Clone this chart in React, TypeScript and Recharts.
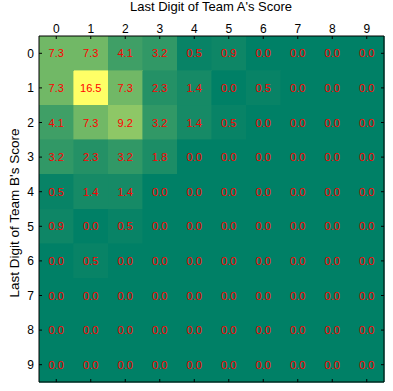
import React from 'react';
import { ComposedChart, XAxis, YAxis, ReferenceArea, Scatter } from 'recharts';

// Last digit categories
const teamADigits = [0, 1, 2, 3, 4, 5, 6, 7, 8, 9];
const teamBDigits = [0, 1, 2, 3, 4, 5, 6, 7, 8, 9];

// Percentages: row = Team B last digit, column = Team A last digit
const rowB0 = [7.3, 7.3, 4.1, 3.2, 0.5, 0.9, 0.0, 0.0, 0.0, 0.0];
const rowB1 = [7.3, 16.5, 7.3, 2.3, 1.4, 0.0, 0.5, 0.0, 0.0, 0.0];
const rowB2 = [4.1, 7.3, 9.2, 3.2, 1.4, 0.5, 0.0, 0.0, 0.0, 0.0];
const rowB3 = [3.2, 2.3, 3.2, 1.8, 0.0, 0.0, 0.0, 0.0, 0.0, 0.0];
const rowB4 = [0.5, 1.4, 1.4, 0.0, 0.0, 0.0, 0.0, 0.0, 0.0, 0.0];
const rowB5 = [0.9, 0.0, 0.5, 0.0, 0.0, 0.0, 0.0, 0.0, 0.0, 0.0];
const rowB6 = [0.0, 0.5, 0.0, 0.0, 0.0, 0.0, 0.0, 0.0, 0.0, 0.0];
const rowB7 = [0.0, 0.0, 0.0, 0.0, 0.0, 0.0, 0.0, 0.0, 0.0, 0.0];
const rowB8 = [0.0, 0.0, 0.0, 0.0, 0.0, 0.0, 0.0, 0.0, 0.0, 0.0];
const rowB9 = [0.0, 0.0, 0.0, 0.0, 0.0, 0.0, 0.0, 0.0, 0.0, 0.0];

const matrix = [rowB0, rowB1, rowB2, rowB3, rowB4, rowB5, rowB6, rowB7, rowB8, rowB9];

const xTitle = "Last Digit of Team A's Score";
const yTitle = "Last Digit of Team B's Score";

const FONT = 'Arial, "Liberation Sans", sans-serif';

const maxValue = Math.max(...matrix.map((r) => Math.max(...r)));

// matplotlib "summer" colormap
function summer(v: number) {
  const t = maxValue > 0 ? v / maxValue : 0;
  const r = Math.round(255 * t);
  const g = Math.round(255 * (0.5 + 0.5 * t));
  const b = Math.round(255 * 0.4);
  return `rgb(${r},${g},${b})`;
}

const cells = teamBDigits.flatMap((b, ri) =>
  teamADigits.map((a, ci) => ({ x: a, y: b, v: matrix[ri][ci] }))
);

const CellLabel = (props: any) => {
  const { cx, cy, payload } = props;
  if (cx == null || cy == null) return null;
  return (
    <text
      x={cx}
      y={cy}
      textAnchor="middle"
      dominantBaseline="central"
      fill="#ff0000"
      fontSize={11}
      fontFamily={FONT}
    >
      {payload.v.toFixed(1)}
    </text>
  );
};

export default function App() {
  const W = 393;
  const H = 391;
  return (
    <div style={{ position: 'absolute', left: 0, top: 0, width: W, height: H, background: '#fff' }}>
      <ComposedChart
        width={W}
        height={H}
        margin={{ top: 16, right: 5, bottom: 5, left: 0 }}
        style={{ fontFamily: FONT }}
      >
        {cells.map((c) => (
          <ReferenceArea
            key={`c-${c.x}-${c.y}`}
            xAxisId="top"
            yAxisId="left"
            x1={c.x - 0.5}
            x2={c.x + 0.5}
            y1={c.y - 0.5}
            y2={c.y + 0.5}
            fill={summer(c.v)}
            fillOpacity={1}
            stroke={summer(c.v)}
            strokeWidth={0.6}
            shapeRendering="crispEdges"
            ifOverflow="visible"
          />
        ))}
        <Scatter
          xAxisId="top"
          yAxisId="left"
          data={cells}
          dataKey="y"
          isAnimationActive={false}
          shape={CellLabel}
        />
        <XAxis
          xAxisId="top"
          orientation="top"
          type="number"
          dataKey="x"
          domain={[-0.5, 9.5]}
          ticks={teamADigits}
          interval={0}
          allowDataOverflow
          height={20}
          tickSize={-3}
          tickMargin={6}
          stroke="#000"
          tick={{ fill: '#000', fontSize: 12, fontFamily: FONT }}
        />
        <XAxis
          xAxisId="bottom"
          orientation="bottom"
          type="number"
          dataKey="x"
          domain={[-0.5, 9.5]}
          ticks={teamADigits}
          interval={0}
          allowDataOverflow
          height={4}
          tickSize={-3}
          tickFormatter={() => ''}
          stroke="#000"
        />
        <YAxis
          yAxisId="left"
          orientation="left"
          type="number"
          dataKey="y"
          reversed
          domain={[-0.5, 9.5]}
          ticks={teamBDigits}
          interval={0}
          allowDataOverflow
          width={39}
          tickSize={-3}
          tickMargin={8}
          stroke="#000"
          tick={{ fill: '#000', fontSize: 12, fontFamily: FONT }}
        />
        <YAxis
          yAxisId="right"
          orientation="right"
          type="number"
          dataKey="y"
          reversed
          domain={[-0.5, 9.5]}
          ticks={teamBDigits}
          interval={0}
          allowDataOverflow
          width={4}
          tickSize={-3}
          tickFormatter={() => ''}
          stroke="#000"
        />
        <text x={211} y={11} textAnchor="middle" fontSize={13} fontFamily={FONT} fill="#000">
          {xTitle}
        </text>
        <text
          x={0}
          y={0}
          transform="translate(19, 213) rotate(-90)"
          textAnchor="middle"
          fontSize={13.5}
          fontFamily={FONT}
          fill="#000"
        >
          {yTitle}
        </text>
      </ComposedChart>
    </div>
  );
}
